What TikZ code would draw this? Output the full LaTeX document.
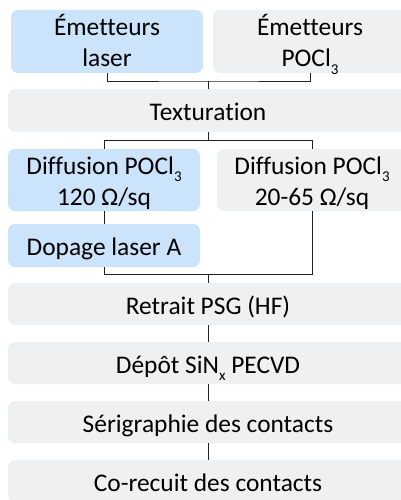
\documentclass[tikz,border=0pt]{standalone}
\usepackage{fontspec}
\setmainfont[Ligatures={NoCommon}]{Carlito}
\definecolor{bluebox}{HTML}{CBE3FB}
\definecolor{graybox}{HTML}{EFF0F2}
\definecolor{linec}{HTML}{222222}
\newcommand{\sbs}[1]{\raisebox{-0.28em}{\fontsize{15}{15}\selectfont #1}}
\newcommand{\lbl}[1]{\raisebox{-3.8pt}[\height][\depth]{\begin{tabular}{@{}c@{}}#1\end{tabular}}}
\begin{document}
\begin{tikzpicture}[x=1pt,y=-1pt,
  box/.style={rounded corners=7pt, inner sep=0pt,
    font=\fontsize{25.4}{31}\selectfont},
  bluefill/.style={box, fill=bluebox},
  grayfill/.style={box, fill=graybox},
  conn/.style={draw=linec, line width=0.9pt}]
\useasboundingbox (0,0) rectangle (401,500);
\clip (0,0) rectangle (401,500);
\node[bluefill, minimum width=192pt, minimum height=63pt] (em1) at (107,41.5) {\lbl{Émetteurs\\laser}};
\node[grayfill, minimum width=194pt, minimum height=63pt] (em2) at (310,41.5) {\lbl{Émetteurs\\POCl\sbs{3}}};
\node[grayfill, minimum width=400pt, minimum height=43pt] (tex) at (208,110.5) {\lbl{Texturation}};
\node[bluefill, minimum width=192pt, minimum height=62pt] (d1) at (104,180) {\lbl{Diffusion POCl\sbs{3}\\120 Ω/sq}};
\node[grayfill, minimum width=190pt, minimum height=62pt] (d2) at (312,180) {\lbl{Diffusion POCl\sbs{3}\\20-65 Ω/sq}};
\node[bluefill, minimum width=192pt, minimum height=43pt] (dop) at (104,245.5) {\lbl{Dopage laser A}};
\node[grayfill, minimum width=400pt, minimum height=42pt] (ret) at (208,304) {\lbl{Retrait PSG (HF)}};
\node[grayfill, minimum width=400pt, minimum height=42pt] (dep) at (208,363) {\lbl{Dépôt SiN\sbs{x} PECVD}};
\node[grayfill, minimum width=400pt, minimum height=42pt] (ser) at (208,422) {\lbl{Sérigraphie des contacts}};
\node[grayfill, minimum width=400pt, minimum height=42pt] (co) at (208,481) {\lbl{Co-recuit des contacts}};
\coordinate (j1) at (208,81);
\coordinate (j2) at (208,140.7);
\coordinate (j3) at (208,274.5);
\draw[conn] (em1.south) |- (j1) -| (em2.south);
\draw[conn] (j1) -- (tex.north);
\draw[conn] (tex.south) -- (j2);
\draw[conn] (d1.north) |- (j2) -| (d2.north);
\draw[conn] (d1.south) -- (dop.north);
\draw[conn] (dop.south) |- (j3) -| (d2.south);
\draw[conn] (j3) -- (ret.north);
\draw[conn] (ret.south) -- (dep.north);
\draw[conn] (dep.south) -- (ser.north);
\draw[conn] (ser.south) -- (co.north);
\end{tikzpicture}
\end{document}
